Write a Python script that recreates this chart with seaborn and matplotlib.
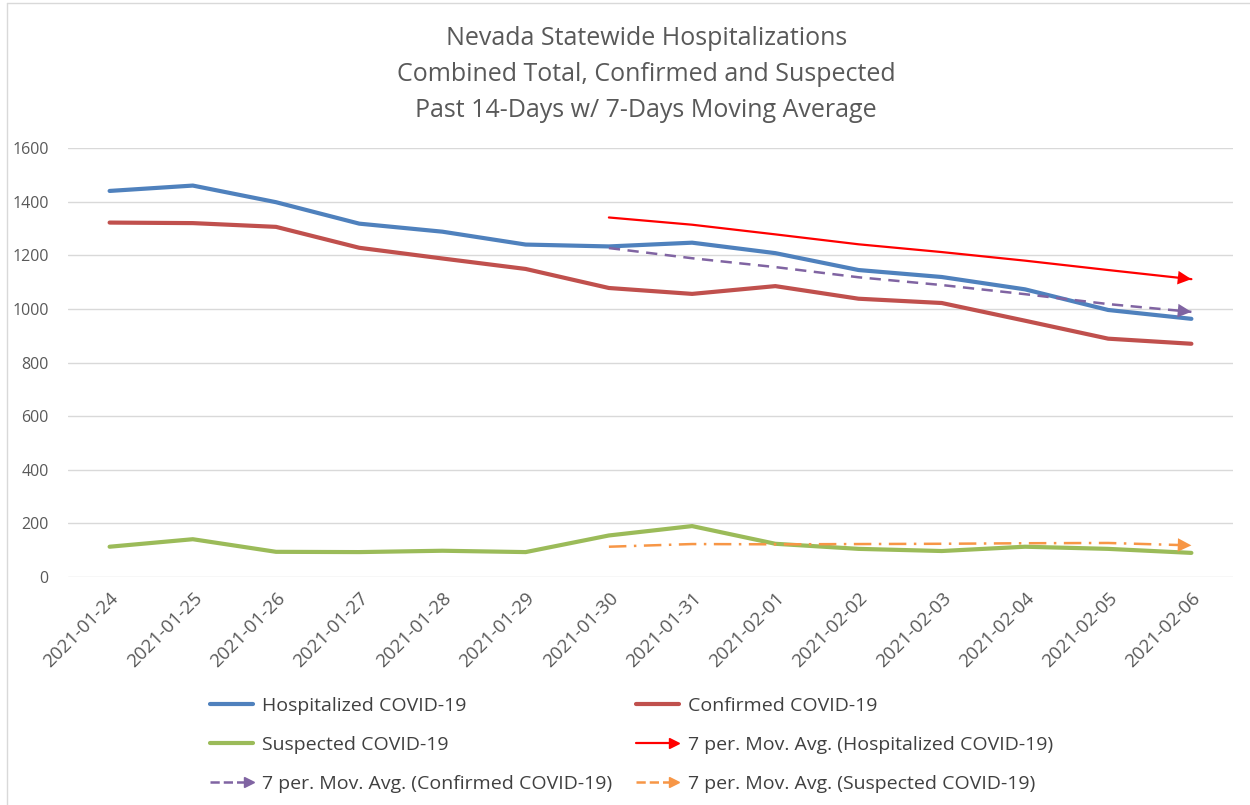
import matplotlib
matplotlib.use("Agg")
import matplotlib.pyplot as plt
import seaborn as sns
import numpy as np
import pandas as pd
from matplotlib.lines import Line2D
from matplotlib.legend_handler import HandlerBase

dates = ["2021-01-24", "2021-01-25", "2021-01-26", "2021-01-27", "2021-01-28",
         "2021-01-29", "2021-01-30", "2021-01-31", "2021-02-01", "2021-02-02",
         "2021-02-03", "2021-02-04", "2021-02-05", "2021-02-06"]
hospitalized = [1440, 1460, 1398, 1318, 1288, 1240, 1233, 1247, 1208, 1145, 1119, 1073, 996, 963]
confirmed = [1322, 1320, 1306, 1228, 1188, 1149, 1078, 1056, 1085, 1038, 1022, 956, 889, 870]
suspected = [113, 141, 94, 93, 98, 93, 155, 190, 124, 105, 97, 113, 105, 90]
# 7 per. moving averages as drawn (start on the 7th day)
ma_hosp = [None] * 6 + [1341, 1314, 1278, 1241, 1212, 1180, 1145, 1111]
ma_conf = [None] * 6 + [1227, 1189, 1156, 1118, 1089, 1055, 1018, 989]
ma_susp = [None] * 6 + [113, 123, 122, 123, 124, 126, 127, 118]

df = pd.DataFrame({
    "pos": np.arange(len(dates)),
    "date": dates,
    "Hospitalized COVID-19": hospitalized,
    "Confirmed COVID-19": confirmed,
    "Suspected COVID-19": suspected,
    "7 per. Mov. Avg. (Hospitalized COVID-19)": pd.array(ma_hosp, dtype="Float64"),
    "7 per. Mov. Avg. (Confirmed COVID-19)": pd.array(ma_conf, dtype="Float64"),
    "7 per. Mov. Avg. (Suspected COVID-19)": pd.array(ma_susp, dtype="Float64"),
})

sns.set_theme(style="white")
plt.rcParams["font.family"] = ["Open Sans", "DejaVu Sans"]

series = [
    # name, color, lw, dashes, arrow
    ("Hospitalized COVID-19", "#4F81BD", 3.0, None, False),
    ("Confirmed COVID-19", "#C0504D", 3.0, None, False),
    ("Suspected COVID-19", "#9BBB59", 3.0, None, False),
    ("7 per. Mov. Avg. (Hospitalized COVID-19)", "#FF0000", 1.6, None, True),
    ("7 per. Mov. Avg. (Confirmed COVID-19)", "#8064A2", 1.8, (4.5, 3), True),
    ("7 per. Mov. Avg. (Suspected COVID-19)", "#F79646", 1.8, (7, 3, 1, 3), True),
]

fig = plt.figure(figsize=(12.5, 8.05), dpi=100)
ax = fig.add_axes([0.0544, 0.2832, 0.932, 0.5329])

handles = []
for name, color, lw, dashes, arrow in series:
    sub = df[["pos", name]].dropna()
    sub = sub.astype({name: float})
    kw = dict(color=color, linewidth=lw, ax=ax, legend=False,
              solid_capstyle="round")
    if dashes is not None:
        kw["dashes"] = [dashes]
        kw["style"] = [0] * len(sub)
    sns.lineplot(data=sub, x="pos", y=name, **kw)
    if arrow:
        xs = sub["pos"].values
        ys = sub[name].values
        x0 = xs[-1] - 0.25 * (xs[-1] - xs[-2])
        y0 = ys[-1] - 0.25 * (ys[-1] - ys[-2])
        ax.annotate("", xy=(xs[-1], ys[-1]), xytext=(x0, y0),
                    arrowprops=dict(arrowstyle="-|>,head_length=0.7,head_width=0.35",
                                    color=color, lw=0, mutation_scale=14,
                                    shrinkA=0, shrinkB=0))
    h = Line2D([], [], color=color, linewidth=lw,
               linestyle=(0, dashes) if dashes else "-")
    h._arrow = arrow
    handles.append(h)


class HandlerArrow(HandlerBase):
    def create_artists(self, legend, orig_handle, xdescent, ydescent,
                       width, height, fontsize, trans):
        y = height / 2 - ydescent
        arrow = getattr(orig_handle, "_arrow", False)
        x_end = -xdescent + (width * 0.82 if arrow else width)
        line = Line2D([-xdescent, x_end], [y, y], color=orig_handle.get_color(),
                      linewidth=orig_handle.get_linewidth(),
                      linestyle=orig_handle.get_linestyle())
        line.set_transform(trans)
        arts = [line]
        if arrow:
            head = Line2D([-xdescent + width * 0.9], [y], marker=">", markersize=7,
                          color=orig_handle.get_color(), linestyle="none")
            head.set_transform(trans)
            arts.append(head)
        return arts


ax.set_xlim(-0.5, len(dates) - 0.5)
ax.set_ylim(0, 1600)
ax.set_yticks(range(0, 1601, 200))
ax.set_xticks(df["pos"])
ax.set_xticklabels(dates, rotation=45, ha="right", rotation_mode="anchor")
ax.tick_params(axis="both", length=0, labelcolor="#595959")
ax.tick_params(axis="y", pad=14, labelsize=11.5)
ax.tick_params(axis="x", pad=9, labelsize=13.5)
ax.set_xlabel("")
ax.set_ylabel("")
ax.grid(axis="y", color="#D9D9D9", linewidth=1.0)
ax.set_axisbelow(True)
for s in ax.spines.values():
    s.set_visible(False)

fig.text(0.517, 0.908, "Nevada Statewide Hospitalizations\nCombined Total, Confirmed and Suspected\nPast 14-Days w/ 7-Days Moving Average",
         ha="center", va="center", fontsize=18, color="#595959", linespacing=1.58)

# Excel fills the legend row by row
order = [0, 2, 4, 1, 3, 5]
leg = fig.legend([handles[i] for i in order], [series[i][0] for i in order],
                 handler_map={h: HandlerArrow() for h in handles},
                 ncol=2, loc="upper left", bbox_to_anchor=(0.168, 0.134),
                 frameon=False, fontsize=14, handlelength=2.2, handletextpad=0.5,
                 columnspacing=1.2, labelspacing=1.07, labelcolor="#404040",
                 borderpad=0, borderaxespad=0)

# chart border (left and top visible)
fig.add_artist(Line2D([0.0056, 0.0056], [0, 0.9963], color="#D9D9D9", lw=1))
fig.add_artist(Line2D([0.0056, 1], [0.9963, 0.9963], color="#D9D9D9", lw=1))

fig.savefig("out.png", dpi=100, facecolor="white")
